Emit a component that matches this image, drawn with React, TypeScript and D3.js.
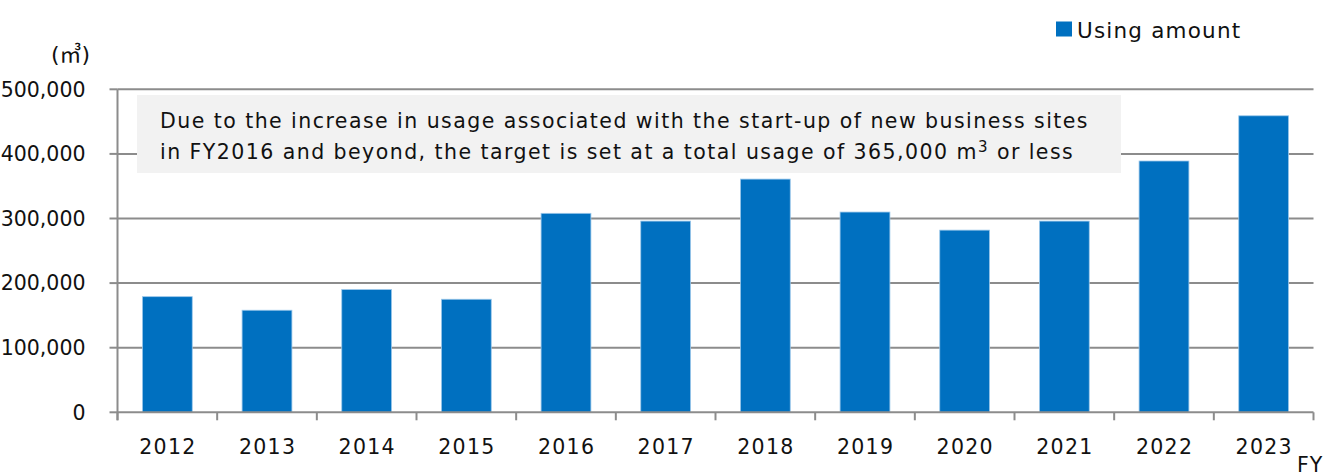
import React from "react";
import * as d3 from "d3";

const years = ["2012","2013","2014","2015","2016","2017","2018","2019","2020","2021","2022","2023"];
const usage = [179000,158000,190000,175000,308000,296000,361000,310000,282000,296000,389000,459000];
const yTicks = [0,100000,200000,300000,400000,500000];
const seriesName = "Using amount";
const unitLabel = "(㎥)";
const noteLines = [
  "Due to the increase in usage associated with the start-up of new business sites",
  "in FY2016 and beyond, the target is set at a total usage of 365,000 m",
];

const W = 1333, H = 474;
const FONT = "'DejaVu Sans', Verdana, sans-serif";

export default function App() {
  const x = d3.scaleBand<string>().domain(years).range([117.5, 1313.5]).paddingInner(0.5).paddingOuter(0.25);
  const y = d3.scaleLinear().domain([0, 500000]).range([412.3, 89.3]);
  const fmt = d3.format(",");
  const step = x.step();
  const x0 = 117.5, x1 = 1313.5;
  const grey = "#8c8c8c";
  const ink = "#111";
  return (
    <svg width={W} height={H} style={{ position: "absolute", left: 0, top: 0, background: "#fff" }} fontFamily={FONT}>
      {/* gridlines */}
      {yTicks.filter(t => t > 0).map(t => (
        <line key={t} x1={x0} x2={x1} y1={y(t)} y2={y(t)} stroke={grey} strokeWidth={2} />
      ))}
      {/* annotation box */}
      <rect x={137} y={95} width={984} height={78} fill="#f2f2f2" />
      <g letterSpacing={1.45} fontSize={20.5} fill={ink}>
        <text x={160} y={128}>{noteLines[0]}</text>
        <text x={160} y={159}>{noteLines[1]}<tspan fontSize={15} dy={-7}>3</tspan><tspan dy={7}> or less</tspan></text>
      </g>
      {/* bars */}
      {years.map((yr, i) => (
        <rect key={yr} x={x(yr)} y={y(usage[i])} width={x.bandwidth()} height={y(0) - y(usage[i])} fill="#0070c0" stroke="#9cc8ea" strokeWidth={0.8} />
      ))}
      {/* y axis */}
      <line x1={x0} x2={x0} y1={y(500000)} y2={y(0) + 8} stroke={grey} strokeWidth={2} />
      {yTicks.map(t => (
        <g key={t}>
          <line x1={x0 - 8} x2={x0} y1={y(t)} y2={y(t)} stroke={grey} strokeWidth={2} />
          <text x={85.5} y={y(t)} dy="0.36em" textAnchor="end" fontSize={20.5} fill={ink}>{fmt(t)}</text>
        </g>
      ))}
      {/* x axis */}
      <line x1={x0} x2={x1} y1={y(0)} y2={y(0)} stroke={grey} strokeWidth={2} />
      {d3.range(years.length + 1).map(i => (
        <line key={i} x1={x0 + i * step} x2={x0 + i * step} y1={y(0)} y2={y(0) + 8} stroke={grey} strokeWidth={2} />
      ))}
      {years.map(yr => (
        <text key={yr} x={x(yr)! + x.bandwidth() / 2 + 0.6} y={454} textAnchor="middle" fontSize={20.5} letterSpacing={1.3} fill={ink}>{yr}</text>
      ))}
      <text x={1297} y={472} fontSize={20.5} letterSpacing={1} fill={ink}>FY</text>
      <text x={51} y={62} fontSize={22} fontFamily="'DejaVu Sans', 'Noto Sans CJK JP', sans-serif" fill={ink}>{unitLabel}</text>
      {/* legend */}
      <rect x={1056} y={21.5} width={16} height={15} fill="#0070c0" />
      <text x={1077} y={38} fontSize={21.5} letterSpacing={1.2} fill={ink}>{seriesName}</text>
    </svg>
  );
}
